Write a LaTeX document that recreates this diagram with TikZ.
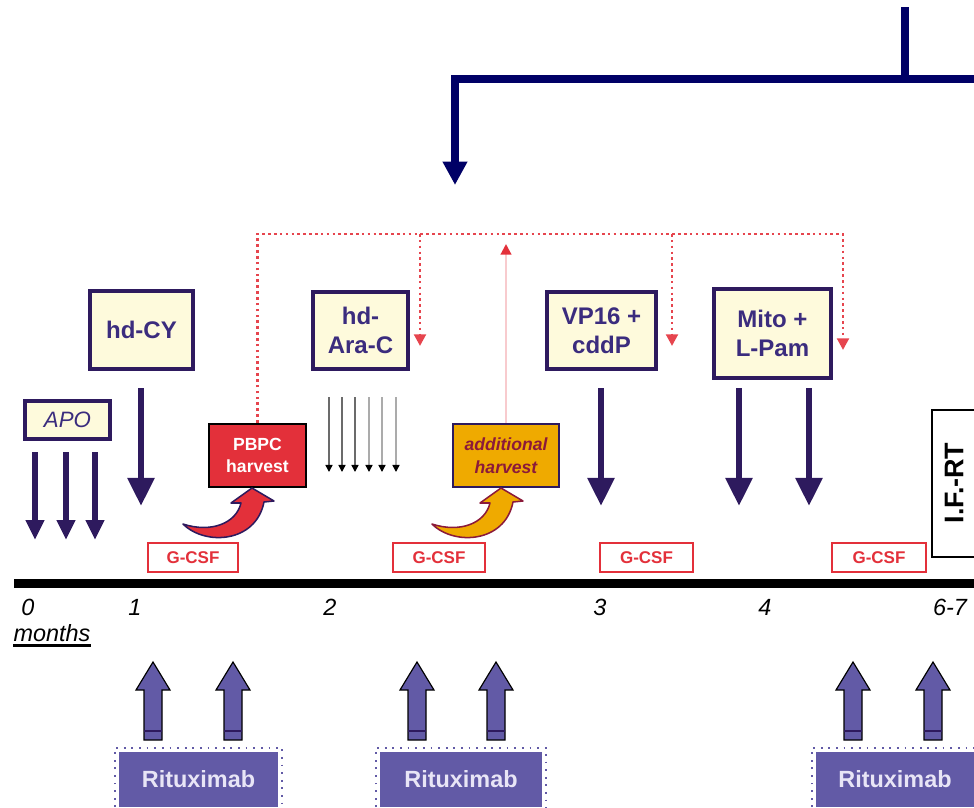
\documentclass[tikz,border=0pt]{standalone}
\usepackage{fontspec}
\setmainfont{Liberation Sans}
\usetikzlibrary{arrows.meta}
\definecolor{cream}{HTML}{FEFADC}
\definecolor{boxline}{HTML}{2E1A5E}
\definecolor{boxtext}{HTML}{3B2C7E}
\definecolor{topnavy}{HTML}{000066}
\definecolor{pbpcred}{HTML}{E3303A}
\definecolor{gold}{HTML}{EFAA00}
\definecolor{addtext}{HTML}{8B1A3A}
\definecolor{ritux}{HTML}{625AA6}
\definecolor{rituxtext}{HTML}{E8E5F6}
\def\px{0.03cm}

\begin{document}
\begin{tikzpicture}[x=0.03cm, y=-0.03cm,
	drug/.style={draw=boxline, line width=2.8pt, fill=cream, text=boxtext, align=center,
	  inner sep=0pt, font=\fontsize{20.5}{25}\selectfont\bfseries},
	harvest/.style={line width=2.4pt, align=center, inner sep=0pt, minimum height=63*\px,
	  font=\fontsize{15}{19.5}\selectfont\bfseries},
	gcsf/.style={draw=pbpcred, line width=2.2pt, fill=white, text=pbpcred, inner sep=0pt,
	  minimum height=29*\px, font=\fontsize{14.5}{15}\selectfont\bfseries},
	rituxbox/.style={fill=ritux, text=rituxtext, inner sep=0pt, minimum height=55*\px,
	  font=\fontsize{20}{20}\selectfont\bfseries},
	rituxdots/.style={draw=ritux, line width=1.5pt, dash pattern=on 1.5pt off 5pt},
	rituxarrow/.style={fill=ritux, draw=black, line width=1pt},
	dose/.style={draw=boxline, line width=5.5pt, -{Triangle[width=22pt,length=24pt]}},
	small dose/.style={draw=boxline, line width=4.5pt, -{Triangle[width=15pt,length=17pt]}},
	recall/.style={draw=pbpcred!90, line width=2.5pt, dash pattern=on 2.2pt off 2.8pt},
	month/.style={font=\fontsize{20}{20}\selectfont\itshape}]
	\useasboundingbox (0,0) rectangle (974,807);
	% induction boxes
	\node[drug, font=\fontsize{19}{19}\selectfont\itshape, minimum width=85*\px, minimum height=38*\px] (apo) at (67.5,420) {APO};
	\node[drug, minimum width=103*\px, minimum height=78*\px] (cy) at (141.5,330) {hd-CY};
	\node[drug, minimum width=95*\px, minimum height=77*\px] (ara) at (360.5,330.5) {hd-\\Ara-C};
	\node[drug, minimum width=109*\px, minimum height=77*\px] (vp) at (601.5,330.5) {VP16 +\\cddP};
	\node[drug, minimum width=117*\px, minimum height=89*\px] (mito) at (772.5,333.5) {Mito +\\L-Pam};
	\node[harvest, draw=black, fill=pbpcred, text=white, minimum width=97*\px] (pbpc) at (257.5,455.5) {PBPC\\harvest};
	\node[harvest, draw=boxline, fill=gold, text=addtext, minimum width=106*\px, font=\fontsize{15}{19.5}\selectfont\bfseries\itshape] (add) at (506,455.5) {additional\\harvest};
	\foreach \x/\w [count=\i] in {193/90, 439/92, 646.5/93, 879/94}{
	  \node[gcsf, minimum width=\w*\px] (gcsf\i) at (\x,557.5) {G-CSF};
	}
	% top feed
	\coordinate (feed) at (905,7);
	\coordinate (feed bend) at (905,79);
	\coordinate (feed right) at (974,79);
	\coordinate (feed corner) at (455,79);
	\coordinate (feed tip) at (455,185);
	\draw[topnavy, line width=6pt] (feed) -- (feed bend);
	\draw[topnavy, line width=6.5pt, -{Triangle[width=20pt,length=20pt]}] (feed right) -- (feed corner) -- (feed tip);
	% red recall lines
	\coordinate (bar e) at (843,234);
	\coordinate (mito drop) at (843,350);
	\coordinate (ara bar) at (420,234);
	\coordinate (ara drop) at (420,346);
	\coordinate (vp bar) at (672,234);
	\coordinate (vp drop) at (672,346);
	\coordinate (add tip) at (506,244);
	\draw[recall, -{Triangle[width=10pt,length=10pt]}] (pbpc.north) |- (bar e) -- (mito drop);
	\draw[recall, -{Triangle[width=10pt,length=10pt]}] (ara bar) -- (ara drop);
	\draw[recall, -{Triangle[width=10pt,length=10pt]}] (vp bar) -- (vp drop);
	\draw[draw=pbpcred!25, line width=1.8pt, -{Triangle[width=9pt,length=9pt,color=pbpcred]}] (add.north) -- (add tip);
	% dosing arrows
	\foreach \x [count=\i] in {35,66,95}{
	  \coordinate (apo top\i) at (\x,452);
	  \coordinate (apo end\i) at (\x,540);
	  \draw[small dose] (apo top\i) -- (apo end\i);
	}
	\foreach \x [count=\i] in {141,601,739,809}{
	  \coordinate (dose top\i) at (\x,388);
	  \coordinate (dose end\i) at (\x,506);
	  \draw[dose] (dose top\i) -- (dose end\i);
	}
	\foreach \x/\c [count=\i] in {329/58,342/58,355/58,369/33,382/33,396/33}{
	  \coordinate (ara top\i) at (\x,397);
	  \coordinate (ara end\i) at (\x,472);
	  \draw[black!\c, line width=1.3pt, -{Triangle[width=6pt,length=6pt,color=black]}] (ara top\i) -- (ara end\i);
	}
	% curved harvest arrows
	\foreach \dx/\body/\rim in {0/pbpcred/boxline, 249/gold/addtext}{
	  \begin{scope}[shift={(\dx,0)}]
	    \filldraw[fill=\body, draw=\rim, line width=1.3pt, line join=round]
	      (183,524) .. controls (205,546) and (256,543) .. (264,502) -- (274,501) -- (252,488)
	      -- (231,503) -- (241,503) .. controls (236,524) and (210,533) .. cycle;
	  \end{scope}
	}
	% time line
	\coordinate (t start) at (14,583.5);
	\coordinate (t end) at (974,583.5);
	\draw[line width=7pt] (t start) -- (t end);
	\foreach \x/\t in {28/0, 135/1, 330/2, 600/3, 765/4, 950/6-7}{
	  \node[month] (m\t) at (\x,607) {\t};
	}
	\node[month, inner xsep=0pt] (months) at (52,633) {months};
	\draw[line width=2.5pt] (months.south west) -- (months.south east);
	% radiotherapy
	\node[rotate=90, font=\fontsize{23}{23}\selectfont\bfseries] (ifrt) at (954,483) {I.F.-RT};
	\draw[line width=2.5pt] (974,410) -| (932,557) -- (974,557);
	% rituximab
	\foreach \x in {153,233,417,496,853,933}{
	  \filldraw[rituxarrow] (\x-9,740) -- (\x-9,690) -- (\x-17,690) -- (\x,662) -- (\x+17,690)
	    -- (\x+9,690) -- (\x+9,740) -- cycle;
	  \draw[boxline, line width=1.5pt] (\x-9,731) -- (\x+9,731);
	}
	\node[rituxbox, minimum width=159*\px] (rtx1) at (198.5,779.5) {Rituximab};
	\node[rituxbox, minimum width=162*\px] (rtx2) at (461,779.5) {Rituximab};
	\node[rituxbox, minimum width=158*\px] (rtx3) at (895,779.5) {Rituximab};
	\foreach \n in {rtx1,rtx2,rtx3}{
	  \draw[rituxdots] ([shift={(-4,0)}]\n.south west) |- ([shift={(4,-4)}]\n.north east) -- ([shift={(4,0)}]\n.south east);
	}
\end{tikzpicture}
\end{document}
